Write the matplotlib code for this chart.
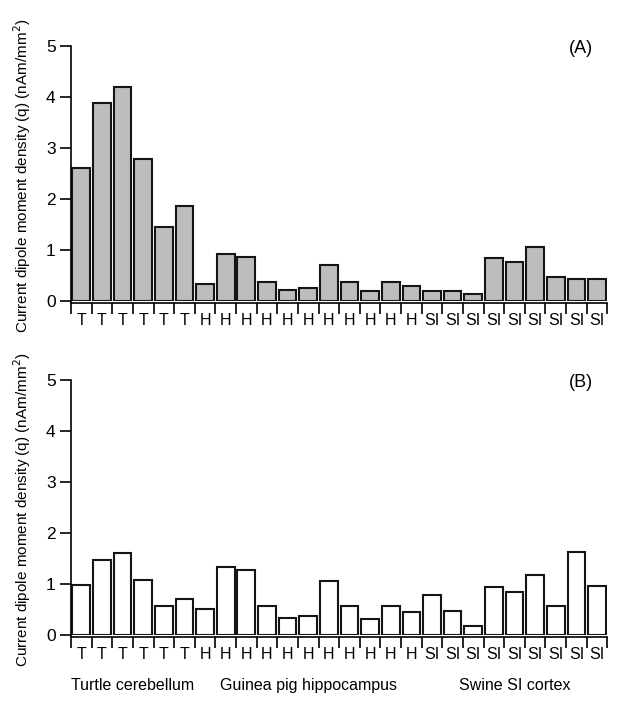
import numpy as np
import matplotlib.pyplot as plt

plt.rcParams['font.family'] = ['Liberation Sans', 'DejaVu Sans']

# sample labels (T = turtle, H = guinea pig hippocampus, SI = swine SI cortex)
labels = ['T'] * 6 + ['H'] * 11 + ['SI'] * 9

# panel A values (nAm/mm^2)
q_a = [2.61, 3.89, 4.20, 2.79, 1.45, 1.87,
       0.33, 0.92, 0.86, 0.37, 0.21, 0.25, 0.71, 0.37, 0.20, 0.37, 0.29,
       0.20, 0.20, 0.14, 0.84, 0.76, 1.06, 0.48, 0.43, 0.43]

# panel B values (nAm/mm^2)
q_b = [0.99, 1.48, 1.61, 1.07, 0.56, 0.71,
       0.51, 1.34, 1.27, 0.56, 0.34, 0.38, 1.05, 0.57, 0.31, 0.57, 0.46,
       0.78, 0.47, 0.18, 0.95, 0.85, 1.17, 0.57, 1.63, 0.97]

groups = ['Turtle cerebellum', 'Guinea pig hippocampus', 'Swine SI cortex']
group_sizes = [6, 11, 9]

ylabel = 'Current dipole moment density (q) (nAm/mm$^2$)'

fig = plt.figure(figsize=(6.24, 7.05), dpi=100)
ax_a = fig.add_axes([0.1138, 0.5730, 0.8595, 0.3617])
ax_b = fig.add_axes([0.1138, 0.0993, 0.8595, 0.3617])

x = np.arange(len(labels))


def style_axis(ax, values, fill, tag):
    ax.bar(x, values, width=0.86, color=fill, edgecolor='#151515', linewidth=1.5)
    ax.set_xlim(-0.5, len(labels) - 0.5)
    ax.set_ylim(0, 5)
    for side in ['top', 'right']:
        ax.spines[side].set_visible(False)
    ax.spines['left'].set_linewidth(1.2)
    ax.spines['left'].set_bounds(-0.04, 5)
    ax.spines['bottom'].set_linewidth(1.2)
    ax.spines['bottom'].set_position(('outward', 1.5))
    ax.set_yticks(range(6))
    ax.tick_params(axis='y', length=8, width=1.2, pad=3, labelsize=12.5)
    ax.set_xticks(x)
    ax.set_xticklabels(labels)
    ax.set_xticks(np.arange(-0.5, len(labels)), minor=True)
    ax.tick_params(axis='x', which='major', length=0, pad=7, labelsize=11.5)
    ax.tick_params(axis='x', which='minor', length=8, width=1.2)
    ax.set_ylabel(ylabel, fontsize=11)
    ax.yaxis.set_label_coords(-0.071, 0.49)
    ax.text(0.951, 0.99, tag, transform=ax.transAxes, fontsize=13,
            ha='center', va='center')


style_axis(ax_a, q_a, '#bdbdbd', '(A)')
style_axis(ax_b, q_b, 'white', '(B)')

# group names under panel B
start = 0
for name, n in zip(groups, group_sizes):
    center = start + n / 2 - 0.5
    ax_b.text(center, -0.197, name, transform=ax_b.get_xaxis_transform(),
              ha='center', va='center', fontsize=11.5)
    start += n

fig.savefig('out.png', dpi=100)
